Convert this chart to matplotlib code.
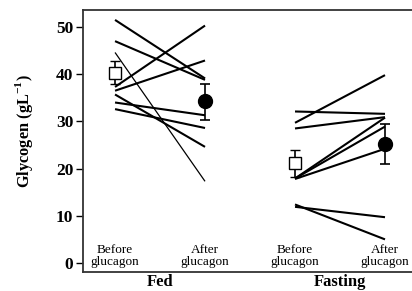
import matplotlib
matplotlib.use("Agg")
import matplotlib.pyplot as plt

# Data
groups = ["Fed", "Fasting"]
conditions = ["Before\nglucagon", "After\nglucagon"]
x_positions = [1, 2, 3, 4]

fed_before = [51.5, 47.0, 37.3, 36.5, 44.6, 35.7, 34.0, 32.6]
fed_after = [39.1, 38.8, 50.3, 42.9, 17.3, 24.6, 31.3, 28.6]
fed_thin = [False, False, False, False, True, False, False, False]

fast_before = [29.7, 32.1, 28.5, 17.9, 17.9, 17.8, 12.4, 11.9]
fast_after = [39.8, 31.6, 30.9, 30.8, 28.9, 24.2, 5.0, 9.7]

mean_before = [40.2, 21.1]
err_before_lo = [38.0, 18.2]
err_before_hi = [42.7, 23.9]
mean_after = [34.3, 25.2]
err_after_lo = [30.3, 21.0]
err_after_hi = [37.9, 29.4]

yticks = [0, 10, 20, 30, 40, 50]

fig = plt.figure(figsize=(4.12, 2.91), dpi=100)
ax = fig.add_axes([83/412, 19/291, 1 - 83/412, (272-10)/291])

serif = ["Liberation Serif", "DejaVu Serif"]
plt.rcParams["mathtext.fontset"] = "custom"
plt.rcParams["mathtext.rm"] = "Liberation Serif"
plt.rcParams["mathtext.bf"] = "Liberation Serif:bold"

for b, a, thin in zip(fed_before, fed_after, fed_thin):
    ax.plot([x_positions[0], x_positions[1]], [b, a], color="black",
            lw=0.9 if thin else 1.5, solid_capstyle="butt", zorder=2)
for b, a in zip(fast_before, fast_after):
    ax.plot([x_positions[2], x_positions[3]], [b, a], color="black",
            lw=1.5, solid_capstyle="butt", zorder=2)

bx = [x_positions[0], x_positions[2]]
axx = [x_positions[1], x_positions[3]]
ax.errorbar(bx, mean_before,
            yerr=[[m - l for m, l in zip(mean_before, err_before_lo)],
                  [h - m for m, h in zip(mean_before, err_before_hi)]],
            fmt="s", ms=9, mfc="white", mec="black", mew=1.0, ecolor="black",
            elinewidth=1.2, capsize=3.5, capthick=1.2, zorder=4)
ax.errorbar(axx, mean_after,
            yerr=[[m - l for m, l in zip(mean_after, err_after_lo)],
                  [h - m for m, h in zip(mean_after, err_after_hi)]],
            fmt="o", ms=10, mfc="black", mec="black", ecolor="black",
            elinewidth=1.2, capsize=3.5, capthick=1.2, zorder=4)

ax.set_xlim(0.644, 4.3)
ax.set_ylim(-1.91, 53.6)
ax.set_yticks(yticks)
ax.set_yticklabels([str(t) for t in yticks], fontfamily=serif,
                   fontweight="bold", fontsize=12.5)
ax.tick_params(axis="y", direction="out", length=5, width=1.0, pad=2)
ax.set_xticks([])

for s in ["left", "top", "bottom"]:
    ax.spines[s].set_linewidth(1.3)
    ax.spines[s].set_color("#333333")
ax.spines["right"].set_visible(False)

for i, x in enumerate(x_positions):
    ax.text(x, 1.5, conditions[i % 2], ha="center", va="center",
            fontfamily=serif, fontsize=9.5, linespacing=1.05)

fig.text(24/412, 1 - 131/291, "Glycogen (gL$^{\\mathbf{-1}}$)",
         rotation=90, ha="center", va="center", fontfamily=serif,
         fontweight="bold", fontsize=11.8)

for g, xc in zip(groups, [(x_positions[0] + x_positions[1]) / 2,
                          (x_positions[2] + x_positions[3]) / 2]):
    ax.text(xc, -2.4, g, transform=ax.transData, ha="center", va="top",
            fontfamily=serif, fontweight="bold", fontsize=12)

fig.savefig("out.png", dpi=100)
